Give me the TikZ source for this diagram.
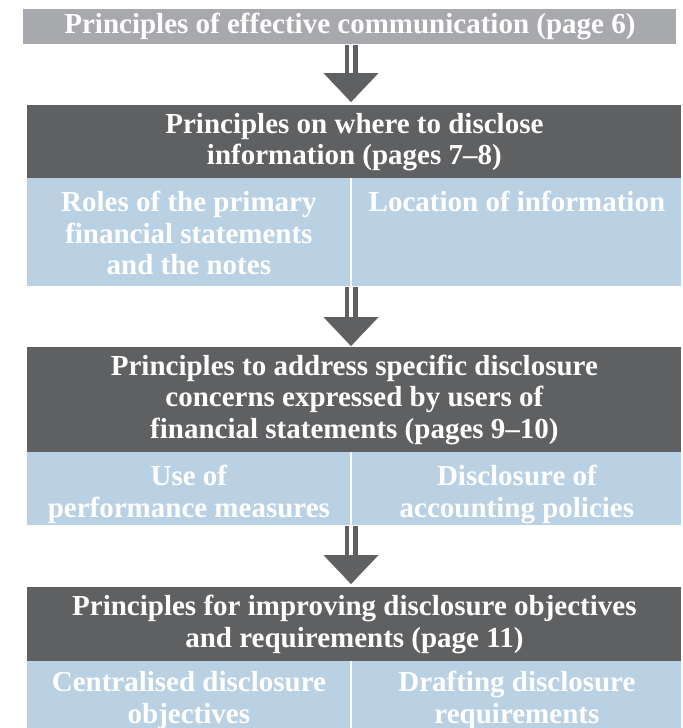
\documentclass[tikz,border=0pt]{standalone}
\usepackage{fontspec}
\setmainfont{Liberation Serif}
\usetikzlibrary{arrows.meta}
\definecolor{bargray}{RGB}{167,169,172}
\definecolor{headgray}{RGB}{95,96,98}
\definecolor{cellblue}{RGB}{185,209,227}
\begin{document}
\begin{tikzpicture}[x=0.5pt,y=-0.5pt,
  txt/.style={text=white,font=\fontsize{14.5}{15.75}\selectfont\bfseries,align=center},
  bar/.style={txt,fill=bargray,inner sep=0pt,anchor=north west,minimum width=326.5pt,minimum height=17.5pt},
  head/.style={txt,fill=headgray,inner sep=0pt,anchor=north west,minimum width=327pt},
  cell/.style={fill=cellblue,inner sep=0pt,anchor=north west},
  celltxt/.style={txt,inner sep=0pt,anchor=north,yshift=-6.5pt},
  shaft/.style={draw=headgray,line width=2.25pt,double=white,double distance=2pt,shorten >=14.5pt},
  tip/.style={draw=headgray,line width=0.1pt,-{Triangle[length=14.5pt,width=27.5pt]}}]
\useasboundingbox (0,0) rectangle (682,728);
\coordinate (t1) at (351,102);
\coordinate (t2) at (351,346);
\coordinate (t3) at (351,584);
% top bar
\node[bar] (comm) at (23,9) {Principles of effective communication (page 6)};
% where to disclose
\node[head,minimum height=36.5pt] (where) at (27,105) {Principles on where to disclose\\information (pages 7--8)};
\node[cell,minimum width=161.5pt,minimum height=54pt] (roles) at (27,178) {};
\node[cell,minimum width=164.5pt,minimum height=54pt] (loc) at (352,178) {};
\node[celltxt] (rolestxt) at (roles.north) {Roles of the primary\\financial statements\\and the notes};
\node[celltxt] (loctxt) at (loc.north) {Location of information};
% specific concerns
\node[head,minimum height=52.5pt] (concern) at (27,347) {Principles to address specific disclosure\\concerns expressed by users of\\financial statements (pages 9--10)};
\node[cell,minimum width=161.5pt,minimum height=36.5pt] (perf) at (27,452) {};
\node[cell,minimum width=164.5pt,minimum height=36.5pt] (acc) at (352,452) {};
\node[celltxt] (perftxt) at (perf.north) {Use of\\performance measures};
\node[celltxt] (acctxt) at (acc.north) {Disclosure of\\accounting policies};
% objectives and requirements
\node[head,minimum height=37pt] (improve) at (27,587) {Principles for improving disclosure objectives\\and requirements (page 11)};
\node[cell,minimum width=161.5pt,minimum height=40pt] (central) at (27,661) {};
\node[cell,minimum width=164.5pt,minimum height=40pt] (draft) at (352,661) {};
\node[celltxt,yshift=1.5pt] (centraltxt) at (central.north) {Centralised disclosure\\objectives};
\node[celltxt,yshift=1.5pt] (drafttxt) at (draft.north) {Drafting disclosure\\requirements};
% arrows
\draw[tip] (comm.south -| t1) -- (t1);
\draw[shaft] (comm.south -| t1) -- (t1);
\draw[tip] (roles.south -| t2) -- (t2);
\draw[shaft] (roles.south -| t2) -- (t2);
\draw[tip] (perf.south -| t3) -- (t3);
\draw[shaft] (perf.south -| t3) -- (t3);
\end{tikzpicture}
\end{document}
